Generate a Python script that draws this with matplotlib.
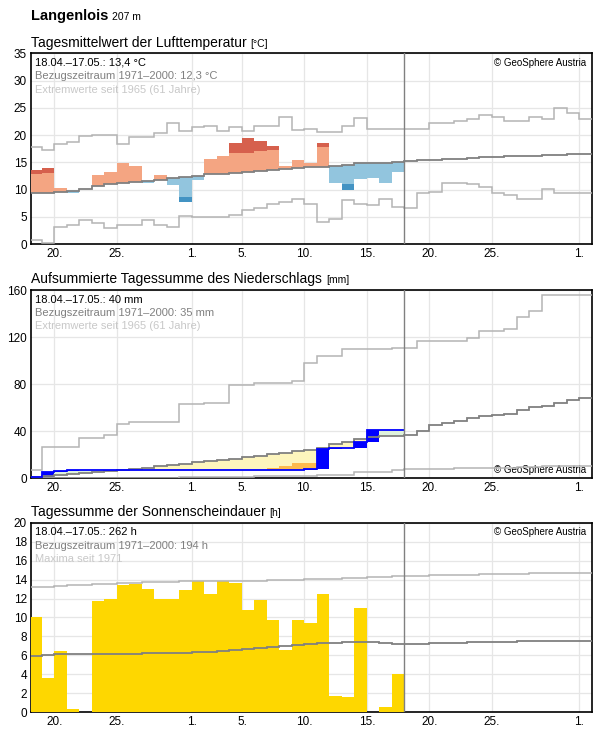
import numpy as np
import matplotlib
matplotlib.use("Agg")
import matplotlib.pyplot as plt

plt.rcParams['font.family'] = ['Liberation Sans', 'DejaVu Sans']

# ---------------- data ----------------
tick_pos = [2, 7, 13, 17, 22, 27, 32, 37, 44]
tick_labels = ["20.", "25.", "1.", "5.", "10.", "15.", "20.", "25.", "1."]

temp_actual = [13.6, 13.9, 10.3, 9.4, 10.2, 12.7, 13.3, 14.8, 14.4, 11.3,
               12.7, 10.9, 7.7, 11.7, 15.6, 16.2, 18.6, 19.5, 19.0, 18.0,
               14.4, 15.4, 14.8, 18.6, 11.2, 10.0, 11.9, 12.2, 11.2, 13.3]
temp_mean = [9.3, 9.4, 9.6, 9.8, 10.2, 10.6, 11.0, 11.2, 11.4, 11.6,
             11.8, 12.2, 12.3, 12.5, 12.8, 12.9, 13.1, 13.2, 13.4, 13.6,
             13.7, 13.9, 14.1, 14.2, 14.4, 14.6, 14.8, 14.9, 14.9, 15.1,
             15.3, 15.4, 15.5, 15.6, 15.7, 15.8, 15.9, 16.0, 16.1, 16.1,
             16.2, 16.3, 16.4, 16.5, 16.5]
temp_max = [17.8, 17.2, 18.3, 18.7, 19.9, 20.0, 20.1, 18.3, 19.6, 19.7,
            20.4, 22.3, 20.7, 21.5, 21.6, 20.7, 21.4, 20.7, 21.7, 21.6,
            23.3, 21.0, 21.1, 20.5, 20.5, 21.6, 23.1, 21.2, 21.2, 21.2,
            21.2, 21.2, 22.3, 22.3, 22.5, 23.0, 23.6, 23.3, 22.5, 22.5,
            23.4, 23.0, 25.0, 24.0, 23.0]
temp_min = [0.8, 0.3, 3.2, 3.5, 4.4, 3.8, 3.0, 3.5, 3.6, 4.4,
            3.6, 3.2, 5.1, 5.0, 4.9, 4.9, 5.4, 6.2, 6.7, 7.3,
            7.8, 8.3, 7.4, 4.0, 4.6, 8.1, 7.4, 7.1, 8.3, 6.8,
            6.6, 9.4, 9.6, 11.2, 11.2, 11.0, 10.5, 9.3, 9.0, 8.3,
            8.3, 10.2, 9.3, 9.3, 9.3]
temp_strong = 3.6

prec_actual = [0.9, 5.3, 6.1, 6.7, 6.7, 6.7, 6.7, 6.7, 7.0, 7.0,
               7.0, 7.0, 7.0, 7.0, 7.0, 7.0, 7.0, 7.0, 7.0, 7.0,
               7.0, 7.0, 7.9, 24.8, 25.4, 25.4, 31.2, 40.6, 40.9, 40.9]
prec_mean = [0.9, 1.8, 2.6, 3.5, 4.7, 5.6, 6.4, 7.0, 8.2, 9.1,
             10.2, 11.4, 12.3, 13.4, 14.6, 15.8, 16.7, 17.8, 19.0, 20.4,
             21.6, 22.8, 23.9, 26.0, 29.0, 31.0, 33.0, 34.7, 35.5, 36.3,
             37.0, 40.0, 44.9, 46.6, 49.0, 51.0, 52.6, 53.8, 55.0, 57.7,
             61.0, 61.5, 63.7, 66.6, 68.0]
prec_orange = [None] * 19 + [8.8, 10.2, 12.6, 12.6] + [None] * 7
prec_max = [6.7, 26.3, 26.3, 26.3, 34.2, 34.2, 36.5, 45.8, 48.2, 48.2,
            48.2, 48.2, 63.0, 63.0, 64.3, 64.3, 79.0, 79.0, 81.4, 81.4,
            81.4, 82.6, 98.0, 103.7, 103.7, 110.0, 110.0, 110.0, 110.0, 110.6,
            110.6, 116.6, 116.6, 116.6, 116.6, 119.0, 125.0, 125.0, 126.9, 137.0,
            142.0, 156.0, 156.0, 156.0, 156.0]
prec_min = [0, 0, 0, 0, 0, 0, 0, 0, 0, 0,
            0, 0, 0.9, 0.9, 0.9, 0.9, 0.9, 0.9, 2.0, 2.0,
            2.0, 2.0, 2.0, 3.0, 3.0, 3.0, 5.0, 5.0, 5.0, 7.3,
            8.0, 8.0, 8.0, 8.0, 8.5, 8.5, 9.0, 9.0, 9.0, 9.5,
            9.5, 10.0, 10.0, 10.0, 10.0]

sun_actual = [10.0, 3.6, 6.5, 0.3, 0.0, 11.7, 11.9, 13.4, 13.5, 13.0,
              11.9, 11.9, 12.9, 13.8, 12.5, 13.8, 13.6, 10.8, 11.8, 9.7,
              6.6, 9.7, 9.4, 12.5, 1.7, 1.6, 11.0, 0.0, 0.6, 4.0]
sun_mean = [5.9, 6.0, 6.1, 6.1, 6.1, 6.1, 6.1, 6.1, 6.1, 6.2,
            6.2, 6.2, 6.3, 6.4, 6.4, 6.5, 6.6, 6.7, 6.8, 6.9,
            7.0, 7.1, 7.2, 7.3, 7.3, 7.4, 7.4, 7.4, 7.3, 7.2,
            7.2, 7.2, 7.3, 7.3, 7.3, 7.4, 7.4, 7.4, 7.4, 7.5,
            7.5, 7.5, 7.5, 7.5, 7.5]
sun_max = [13.2, 13.2, 13.3, 13.4, 13.4, 13.5, 13.5, 13.6, 13.6, 13.7,
           13.7, 13.7, 13.8, 13.8, 13.8, 13.8, 13.9, 13.9, 13.9, 14.0,
           14.0, 14.0, 14.1, 14.1, 14.1, 14.2, 14.2, 14.3, 14.3, 14.4,
           14.4, 14.4, 14.5, 14.5, 14.5, 14.5, 14.6, 14.6, 14.6, 14.6,
           14.7, 14.7, 14.7, 14.7, 14.7]

# ---------------- figure ----------------
fig = plt.figure(figsize=(5.96, 7.29), dpi=100)
XMIN, XMAX = 0.12, 45.0
CUR = 30
GREY_L = "#b4b4b4"
GREY_D = "#808080"

def setup(ax, yticks, ylim):
    ax.set_xlim(XMIN, XMAX)
    ax.set_ylim(*ylim)
    ax.set_xticks(tick_pos)
    ax.set_xticklabels(tick_labels)
    ax.set_yticks(yticks)
    ax.grid(True, color="#e6e6e6", linewidth=0.9)
    ax.set_axisbelow(True)
    ax.tick_params(length=0, labelsize=8.5, pad=3)
    for s in ax.spines.values():
        s.set_linewidth(1.2)
    ax.axvline(CUR, color=GREY_D, linewidth=1.0, zorder=6)

def stairs(ax, vals, color, lw=1.1, z=5):
    n = len(vals)
    ax.stairs(vals, np.arange(n + 1), color=color, linewidth=lw, zorder=z, baseline=None)

renderer = fig.canvas.get_renderer()

def title_with_unit(x, y, title, unit, size=10, usize=7.5, weight="normal"):
    t = fig.text(x, y, title, fontsize=size, fontweight=weight)
    bb = t.get_window_extent(renderer=renderer)
    x2 = (bb.x1 + 4) / fig.bbox.width
    fig.text(x2, y, unit, fontsize=usize)

title_with_unit(0.052, 0.972, "Langenlois", "207 m", size=10.5, weight="bold")

def info(ax, lines, label3):
    ax.text(0.008, 0.975, lines[0], transform=ax.transAxes, fontsize=8, va="top", color="black")
    ax.text(0.008, 0.905, lines[1], transform=ax.transAxes, fontsize=8, va="top", color=GREY_D)
    ax.text(0.008, 0.835, label3, transform=ax.transAxes, fontsize=8, va="top", color="#c8c8c8")

# ---- temperature ----
ax1 = fig.add_axes([0.052, 0.665, 0.941, 0.262])
setup(ax1, range(0, 36, 5), (0, 35))
for i, (a, m) in enumerate(zip(temp_actual, temp_mean)):
    if a >= m:
        light_top = min(a, m + temp_strong)
        ax1.bar(i, light_top - m, bottom=m, width=1, align="edge", color="#f4a582", zorder=3)
        if a > light_top:
            ax1.bar(i, a - light_top, bottom=light_top, width=1, align="edge", color="#d6604d", zorder=3)
    else:
        light_bot = max(a, m - temp_strong)
        ax1.bar(i, m - light_bot, bottom=light_bot, width=1, align="edge", color="#92c5de", zorder=3)
        if a < light_bot:
            ax1.bar(i, light_bot - a, bottom=a, width=1, align="edge", color="#4393c3", zorder=3)
stairs(ax1, temp_max, GREY_L)
stairs(ax1, temp_min, GREY_L)
stairs(ax1, temp_mean, GREY_D, lw=1.3)
title_with_unit(0.052, 0.935, "Tagesmittelwert der Lufttemperatur", "[°C]")
info(ax1, ["18.04.–17.05.: 13,4 °C", "Bezugszeitraum 1971–2000: 12,3 °C"], "Extremwerte seit 1965 (61 Jahre)")
ax1.text(0.99, 0.975, "© GeoSphere Austria", transform=ax1.transAxes, fontsize=7, va="top", ha="right")

# ---- precipitation ----
ax2 = fig.add_axes([0.052, 0.344, 0.941, 0.258])
setup(ax2, [0, 40, 80, 120, 160], (0, 160))
for i, (a, m) in enumerate(zip(prec_actual, prec_mean[:CUR])):
    col = "#fdf5bd" if m > a else "#dff2dc"
    ax2.bar(i, abs(m - a), bottom=min(a, m), width=1, align="edge", color=col, zorder=3)
    o = prec_orange[i]
    if o is not None:
        ax2.bar(i, o - a, bottom=a, width=1, align="edge", color="#fdba4d", zorder=3)
prev = 0.0
for i, a in enumerate(prec_actual):
    if a - prev > 0.5:
        ax2.bar(i, a - prev, bottom=prev, width=1, align="edge", color="#0000ff", zorder=4)
    prev = a
stairs(ax2, prec_max, GREY_L)
stairs(ax2, prec_min, GREY_L)
stairs(ax2, prec_mean, GREY_D, lw=1.3)
stairs(ax2, prec_actual, "#0000ff", lw=1.3, z=5.5)
title_with_unit(0.052, 0.612, "Aufsummierte Tagessumme des Niederschlags", "[mm]")
info(ax2, ["18.04.–17.05.: 40 mm", "Bezugszeitraum 1971–2000: 35 mm"], "Extremwerte seit 1965 (61 Jahre)")
ax2.text(0.99, 0.015, "© GeoSphere Austria", transform=ax2.transAxes, fontsize=7, va="bottom", ha="right")

# ---- sunshine ----
ax3 = fig.add_axes([0.052, 0.023, 0.941, 0.260])
setup(ax3, range(0, 21, 2), (0, 20))
ax3.bar(np.arange(len(sun_actual)), sun_actual, width=1, align="edge", color="#fed700", zorder=3)
stairs(ax3, sun_max, GREY_L)
stairs(ax3, sun_mean, GREY_D, lw=1.3)
title_with_unit(0.052, 0.292, "Tagessumme der Sonnenscheindauer", "[h]")
info(ax3, ["18.04.–17.05.: 262 h", "Bezugszeitraum 1971–2000: 194 h"], "Maxima seit 1971")
ax3.text(0.99, 0.975, "© GeoSphere Austria", transform=ax3.transAxes, fontsize=7, va="top", ha="right")

fig.savefig("out.png", dpi=100)
